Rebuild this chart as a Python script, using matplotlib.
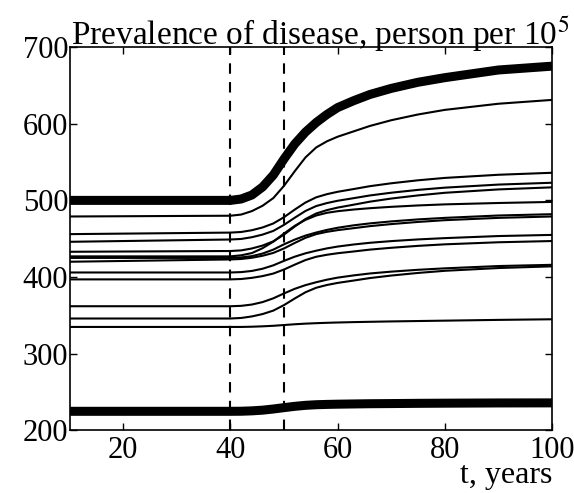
import numpy as np
import matplotlib
matplotlib.use('Agg')
import matplotlib.pyplot as plt

plt.rcParams['font.family'] = ['Liberation Serif', 'DejaVu Serif']
plt.rcParams['mathtext.fontset'] = 'stix'

# time knots (years) and prevalence, person per 10^5
t = [10, 40, 42, 44, 46, 48, 50, 52, 54, 56, 58, 60, 63, 66, 70, 75, 80, 90, 100]

thick_top = [500, 500, 501.8, 507, 517.5, 533, 554, 573.5, 589, 601.5, 612, 621,
             630, 638, 646, 654, 660, 670, 675]
thick_bottom = [225, 225, 225.1, 225.6, 226.5, 228, 229.8, 231.5, 232.8, 233.6, 234,
                234.3, 234.6, 234.9, 235.1, 235.4, 235.6, 235.9, 236]

thin_lines = [
    [479, 480, 481.5, 486, 493, 503, 519, 538, 556, 569, 577, 583,
     590, 597, 604.5, 612, 618, 626, 631],
    [456, 458, 458.8, 461.1, 464.7, 469.9, 478.1, 488, 497.2, 504, 508.1, 511.2,
     514.8, 518.5, 522.3, 526.2, 529.3, 533.4, 536],
    [446, 449, 449.7, 452, 455.4, 460.2, 468.1, 477.4, 486.2, 492.6, 496.5, 499.5,
     502.9, 506.4, 510, 513.7, 516.6, 520.6, 523],
    [433, 434, 434.8, 437.3, 441.1, 446.6, 455.4, 465.9, 475.7, 482.9, 487.3, 490.6,
     494.4, 498.3, 502.4, 506.5, 509.9, 514.3, 517],
    [427, 427, 428.4, 431.3, 437.7, 446.2, 456.8, 466.8, 474.6, 480.3, 483.8, 485.9,
     488.1, 489.8, 491.6, 493.4, 494.8, 496.6, 498],
    [425, 425, 425.6, 427.3, 430.7, 435.8, 442.7, 448.9, 454.1, 458.1, 461.5, 464.3,
     467.5, 470, 472.6, 475.2, 477.2, 480.3, 482],
    [420, 423, 423.6, 425.2, 427.8, 431.5, 437.4, 444.5, 451.2, 456, 459, 461.2,
     463.8, 466.4, 469.1, 471.9, 474.2, 477.2, 479],
    [406, 406, 406.5, 408, 410.9, 415.3, 421.2, 426.6, 431, 434.4, 437.4, 439.8,
     442.5, 444.7, 446.9, 449.1, 450.8, 453.5, 455],
    [397, 397, 397.5, 399, 401.3, 404.6, 409.9, 416.2, 422.2, 426.5, 429.1, 431.1,
     433.4, 435.8, 438.2, 440.7, 442.7, 445.4, 447],
    [362, 362, 362.5, 364.2, 367.4, 372.3, 378.7, 384.7, 389.5, 393.3, 396.6, 399.3,
     402.2, 404.7, 407.1, 409.5, 411.4, 414.4, 416],
    [346, 346, 346.7, 348.7, 351.8, 356.3, 363.5, 372.1, 380.2, 386.1, 389.7, 392.4,
     395.5, 398.7, 402, 405.4, 408.2, 411.8, 414],
    [335, 335, 335, 335.3, 335.8, 336.5, 337.5, 338.5, 339.3, 339.9, 340.4, 340.8,
     341.3, 341.7, 342.2, 342.7, 343.2, 344.2, 345],
]

policy_years = [40, 50]

fig = plt.figure(figsize=(5.74, 4.93), dpi=100)
ax = fig.add_axes([0.1213, 0.1268, 0.8404, 0.7779])

for vals in thin_lines:
    ax.plot(t, vals, color='black', lw=1.5, solid_joinstyle='round')

ax.plot(t, thick_top, color='black', lw=6.5, solid_capstyle='butt', solid_joinstyle='round')
ax.plot(t, thick_bottom, color='black', lw=6.5, solid_capstyle='butt', solid_joinstyle='round')

for yr in policy_years:
    ax.axvline(yr, color='black', lw=1.5, ls=(0, (5, 4)))

ax.set_xlim(10, 100)
ax.set_ylim(200, 700)
ax.set_xticks([20, 40, 60, 80, 100])
ax.set_yticks([200, 300, 400, 500, 600, 700])

ax.tick_params(direction='in', top=True, right=True, length=5, width=1,
               labelsize=22)
ax.tick_params(axis='y', pad=1)
ax.tick_params(axis='x', pad=4)
for s in ax.spines.values():
    s.set_linewidth(1.2)

ax.set_title('Prevalence of disease, person per 10$^5$', fontsize=24, pad=1, x=0.52)
ax.set_xlabel('t, years', fontsize=23, loc='right', labelpad=-3)

fig.savefig('out.png', dpi=100)
